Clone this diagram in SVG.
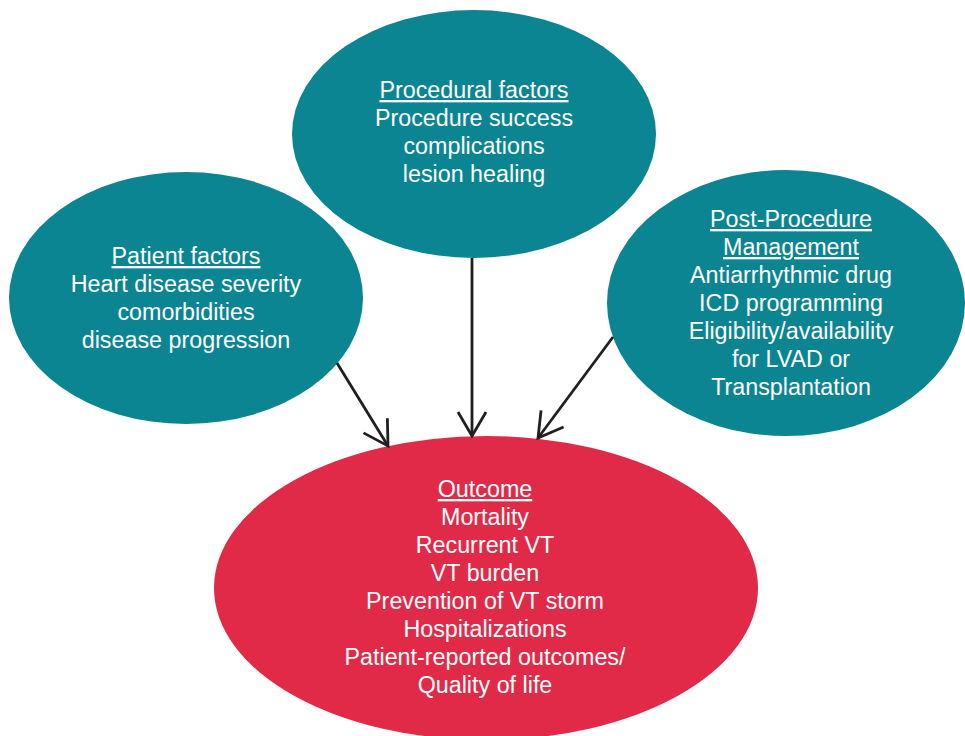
<svg xmlns="http://www.w3.org/2000/svg" width="965" height="736" viewBox="0 0 965 736">
<style>
.t{font-family:"Liberation Sans",Arial,Helvetica,sans-serif;font-size:23.3px;fill:#ffffff;text-anchor:middle}
.u{text-decoration:underline}
.teal{fill:#0a8591}
.red{fill:#e02a47}
.c{stroke:#231f20;stroke-width:2.8;fill:none}
</style>
<defs>
<marker id="ah" markerUnits="userSpaceOnUse" viewBox="-27 -17 30 34" refX="0" refY="0" markerWidth="30" markerHeight="34" orient="auto">
<path d="M-24,-14 L0,0 L-24,14" fill="none" stroke="#231f20" stroke-width="2.8" stroke-linejoin="miter"/>
</marker>
</defs>
<rect width="965" height="736" fill="#ffffff"/>
<g id="outcome">
<ellipse class="red" cx="486" cy="588" rx="272" ry="152"/>
<text class="t" x="485" y="497"><tspan class="u">Outcome</tspan></text>
<text class="t" x="485" y="525">Mortality</text>
<text class="t" x="485" y="553">Recurrent VT</text>
<text class="t" x="485" y="581">VT burden</text>
<text class="t" x="485" y="609">Prevention of VT storm</text>
<text class="t" x="485" y="637">Hospitalizations</text>
<text class="t" x="485" y="665">Patient-reported outcomes/</text>
<text class="t" x="485" y="693">Quality of life</text>
</g>
<g id="patient">
<ellipse class="teal" cx="186" cy="298" rx="177" ry="126"/>
<text class="t" x="186" y="264"><tspan class="u">Patient factors</tspan></text>
<text class="t" x="186" y="292">Heart disease severity</text>
<text class="t" x="186" y="320">comorbidities</text>
<text class="t" x="186" y="348">disease progression</text>
</g>
<g id="procedural">
<ellipse class="teal" cx="474" cy="134" rx="182" ry="124"/>
<text class="t" x="474" y="98"><tspan class="u">Procedural factors</tspan></text>
<text class="t" x="474" y="126">Procedure success</text>
<text class="t" x="474" y="154">complications</text>
<text class="t" x="474" y="182">lesion healing</text>
</g>
<g id="post">
<ellipse class="teal" cx="786" cy="303" rx="179" ry="133"/>
<text class="t" x="791" y="227"><tspan class="u">Post-Procedure</tspan></text>
<text class="t" x="791" y="255"><tspan class="u">Management</tspan></text>
<text class="t" x="791" y="283">Antiarrhythmic drug</text>
<text class="t" x="791" y="311">ICD programming</text>
<text class="t" x="791" y="339">Eligibility/availability</text>
<text class="t" x="791" y="367">for LVAD or</text>
<text class="t" x="791" y="395">Transplantation</text>
</g>
<g id="connectors">
<line class="c" x1="337" y1="363" x2="388" y2="446" marker-end="url(#ah)"/>
<line class="c" x1="472" y1="258" x2="472" y2="436" marker-end="url(#ah)"/>
<line class="c" x1="613" y1="337" x2="538" y2="438" marker-end="url(#ah)"/>
</g>
</svg>
